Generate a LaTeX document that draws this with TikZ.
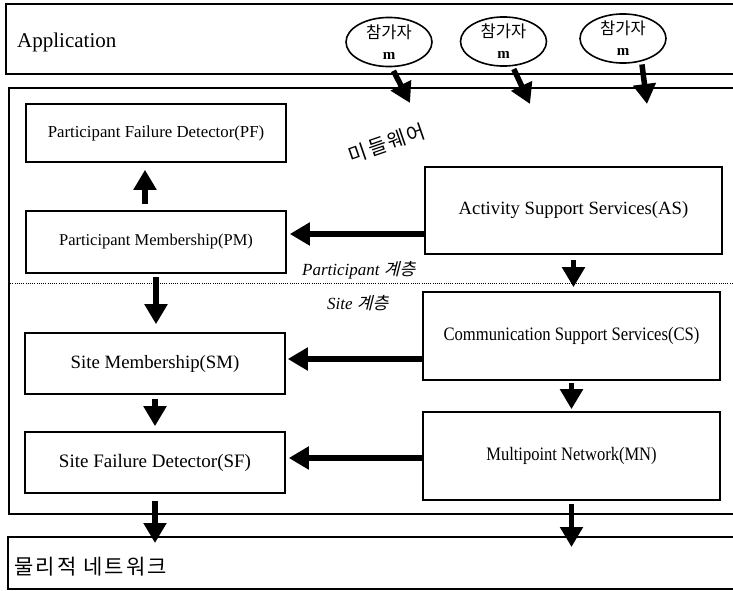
\documentclass[tikz,border=0pt]{standalone}
\usepackage{graphicx}
\usepackage{fontspec}
\setmainfont{Liberation Serif}
\newfontfamily\kr{Noto Sans CJK KR}
\newfontfamily\krwide{Noto Sans CJK KR}[LetterSpace=10]
\newfontfamily\krslant{Noto Sans CJK KR}[FakeSlant=0.25]
\usetikzlibrary{arrows.meta,shapes.geometric}

\tikzset{
  frame/.style={draw, line width=1.6pt, rectangle, inner sep=0pt, anchor=north west},
  module/.style={draw, line width=1.6pt, rectangle, inner sep=0pt, align=center},
  leftmod/.style={module, minimum width=260pt},
  rightmod/.style={module, minimum width=297pt, minimum height=88pt},
  actor/.style={draw, ellipse, line width=1.6pt, inner sep=0pt,
    minimum width=86pt, minimum height=48pt, align=center},
  flow/.style={line width=5.5pt, -{Triangle[length=20pt,width=22pt]}},
  layerline/.style={line width=0.9pt, dash pattern=on 1pt off 1.2pt},
  layertext/.style={anchor=west, inner sep=0pt, font=\fontsize{17}{20}\selectfont\itshape},
}

\begin{document}
\begin{tikzpicture}[x=1pt, y=-1pt]
\useasboundingbox (0,0) rectangle (733,591);

% three layers: application, middleware, physical network
\node[frame, minimum width=740pt, minimum height=70pt] (app) at (5,3) {};
\node[frame, minimum width=737pt, minimum height=426pt] (mid) at (8,87) {};
\node[frame, minimum width=738pt, minimum height=52pt] (phys) at (7,536) {};

\node[anchor=west, inner sep=0pt, font=\fontsize{21}{24}\selectfont] (apptxt) at (17,42) {Application};
\node[anchor=west, inner sep=0pt, font=\krwide\fontsize{21}{24}\selectfont] (phystxt) at (14,567) {물리적 네트워크};

% participants
\begin{scope}[every node/.append style={font=\fontsize{16.5}{21}\selectfont}]
\node[actor] (e1) at (389,42) {{\kr 참가자}\\\textbf{\fontsize{15}{21}\selectfont m}};
\node[actor] (e2) at (503.5,41.5) {{\kr 참가자}\\\textbf{\fontsize{15}{21}\selectfont m}};
\node[actor] (e3) at (623,38.5) {{\kr 참가자}\\\textbf{\fontsize{15}{21}\selectfont m}};
\end{scope}
\coordinate (t1) at (410,103);
\coordinate (t2) at (530,104);
\coordinate (t3) at (647,104);

% middleware label
\node[rotate=19, inner sep=0pt, font=\krwide\fontsize{20}{24}\selectfont] (mw) at (387,143) {미들웨어};

% layer separator
\draw[layerline] (8,283) -- (745,283);
\node[layertext] (plabel) at (302,270) {Participant {\krslant 계층}};
\node[layertext] (slabel) at (327,303) {Site {\krslant 계층}};

% modules
\node[leftmod, minimum height=58pt, font=\fontsize{16.8}{20}\selectfont] (PF) at (156,133) {Participant Failure Detector(PF)};
\node[leftmod, minimum height=62pt, font=\fontsize{16.5}{20}\selectfont] (PM) at (156,242) {Participant Membership(PM)};
\node[leftmod, minimum height=61pt, font=\fontsize{18.8}{22}\selectfont] (SM) at (155,363.5) {Site Membership(SM)};
\node[leftmod, minimum height=61pt, font=\fontsize{19}{22}\selectfont] (SF) at (155,462.5) {Site Failure Detector(SF)};

\node[rightmod, minimum height=87pt, font=\fontsize{18.7}{22}\selectfont] (AS) at (573.5,210.5) {Activity Support Services(AS)};
\node[rightmod, font=\fontsize{19}{22}\selectfont] (CS) at (571.5,336) {\scalebox{0.875}[1]{Communication Support Services(CS)}};
\node[rightmod, font=\fontsize{19}{22}\selectfont] (MN) at (571.5,456) {\scalebox{0.87}[1]{Multipoint Network(MN)}};

% flows
\draw[flow, shorten <=4pt] (e1.-84) -- (t1);
\draw[flow, shorten <=3pt] (e2.-70) -- (t2);
\draw[flow, shorten <=3pt] (e3.-51) -- (t3);

\draw[flow, shorten <=6pt, shorten >=7pt] ([xshift=-11pt]PM.north) -- ([xshift=-11pt]PF.south);
\draw[flow, shorten >=3pt] ([yshift=-23.5pt]AS.west) -- ([yshift=-23.5pt]AS.west -| PM.east);
\draw[flow, shorten <=5pt, shorten >=4pt] (AS.south) -- (AS.south |- CS.north);
\draw[flow, shorten <=3pt, shorten >=8pt] (PM.south) -- (PM.south |- SM.north);
\draw[flow, shorten >=2pt] ([yshift=-23pt]CS.west) -- ([yshift=-23pt]CS.west -| SM.east);
\draw[flow, shorten <=4pt, shorten >=5pt] (SM.south) -- (SF.north);
\draw[flow, shorten <=2pt, shorten >=2pt] (CS.south) -- (MN.north);
\draw[flow, shorten >=3pt] ([yshift=-2pt]MN.west) -- ([yshift=-2pt]MN.west -| SF.east);
\draw[flow, shorten <=7pt, shorten >=-7pt] (SF.south) -- (SF.south |- phys.north);
\draw[flow, shorten <=3pt, shorten >=-11pt] (MN.south) -- (MN.south |- phys.north);
\end{tikzpicture}
\end{document}
